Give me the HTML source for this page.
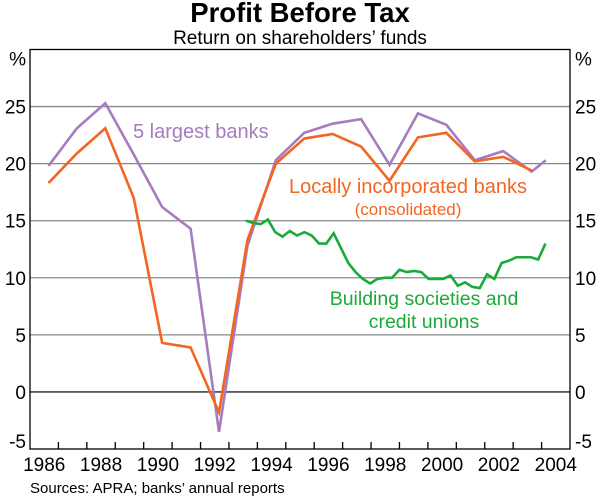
<!DOCTYPE html>
<html><head><meta charset="utf-8">
<style>
body{margin:0;background:#fff;}
svg{display:block;font-family:"Liberation Sans",Arial,sans-serif;}
</style></head>
<body>
<svg id="chart" width="600" height="497" viewBox="0 0 600 497" xmlns="http://www.w3.org/2000/svg">
<text x="300" y="22" text-anchor="middle" font-size="27.5" font-weight="bold">Profit Before Tax</text>
<text x="300" y="44" text-anchor="middle" font-size="19">Return on shareholders’ funds</text>
<g id="grid"></g>
<g id="axes"></g>
<g id="series"></g>
<text x="133" y="138" font-size="20" fill="#a77bbf">5 largest banks</text>
<text x="408" y="193" text-anchor="middle" font-size="20" fill="#f26522">Locally incorporated banks</text>
<text x="408" y="215" text-anchor="middle" font-size="17" fill="#f26522">(consolidated)</text>
<text x="424" y="305" text-anchor="middle" font-size="19.5" fill="#1aaa3a">Building societies and</text>
<text x="424" y="328" text-anchor="middle" font-size="19.5" fill="#1aaa3a">credit unions</text>
<text x="30" y="493" font-size="15">Sources: APRA; banks’ annual reports</text>
</svg>
<script>
const yTicks=[30,25,20,15,10,5,0,-5];
const yTickLabels=["%","25","20","15","10","5","0","-5"];
const xLabelYears=[1986,1988,1990,1992,1994,1996,1998,2000,2002,2004];
const bankYears=[1986.65,1987.65,1988.65,1989.65,1990.65,1991.65,1992.65,1993.65,1994.65,1995.65,1996.65,1997.65,1998.65,1999.65,2000.65,2001.65,2002.65,2003.65,2004.15];
const largest5=[19.8,23.1,25.3,20.8,16.2,14.3,-3.5,12.8,20.3,22.7,23.5,23.9,19.9,24.4,23.4,20.3,21.1,19.3,20.3];
const locallyInc=[18.3,20.9,23.1,17.0,4.3,3.9,-1.8,13.3,20.0,22.2,22.6,21.5,18.5,22.3,22.7,20.2,20.6,19.4];
const buildingStart=1993.6, buildingStep=0.257;
const building=[15.0,14.8,14.7,15.1,14.0,13.6,14.1,13.7,14.0,13.7,13.0,13.0,13.9,12.6,11.3,10.5,9.9,9.5,9.9,10.0,10.0,10.7,10.5,10.6,10.5,9.9,9.9,9.9,10.2,9.3,9.6,9.2,9.1,10.3,9.9,11.3,11.5,11.8,11.8,11.8,11.6,13.0];

const L=30,R=570,T=49.5,B=449;
const x=yr=>L+(yr-1986)*(R-L)/19;
const y=v=>B-(v+5)*(B-T)/35;
const NS="http://www.w3.org/2000/svg";
function mk(tag,attrs,parent){const e=document.createElementNS(NS,tag);for(const k in attrs)e.setAttribute(k,attrs[k]);parent.appendChild(e);return e;}
const grid=document.getElementById('grid'),axes=document.getElementById('axes'),ser=document.getElementById('series');
yTicks.forEach((v,i)=>{
  if(v<30&&v>-5){const g=mk('line',{x1:L,x2:R,y1:y(v),y2:y(v),stroke:v===0?'#222':'#888','stroke-width':1.3},grid);
  
  }
  const ty=v===30?y(v)+16:(v===-5?y(v)-1:y(v)+7);
  const tl=mk('text',{x:L-4,y:ty,'text-anchor':'end','font-size':19},axes);tl.textContent=yTickLabels[i];
  
  
  const tr=mk('text',{x:R+5,y:ty,'font-size':19},axes);tr.textContent=yTickLabels[i];
  
  
});
const box=mk('rect',{x:L,y:T,width:R-L,height:B-T,fill:'none',stroke:'#000','stroke-width':1.3},axes);


for(let yr=1987;yr<=2004;yr++){const t=mk('line',{x1:x(yr),x2:x(yr),y1:B,y2:B-7,stroke:'#000','stroke-width':1.3},axes);

}
xLabelYears.forEach(yr=>{const t=mk('text',{x:x(yr+0.5),y:B+22,'text-anchor':'middle','font-size':19},axes);t.textContent=yr;

});
function line(xs,vs,color,name){const p=mk('polyline',{points:vs.map((v,i)=>x(xs[i])+','+y(v)).join(' '),fill:'none',stroke:color,'stroke-width':2.6,'stroke-linejoin':'miter'},ser);

}
line(bankYears,largest5,'#a77bbf','line-5-largest-banks');
line(bankYears,locallyInc,'#f26522','line-locally-incorporated-banks');
line(building.map((_,i)=>buildingStart+i*buildingStep),building,'#1aaa3a','line-building-societies');
</script>
</body></html>
